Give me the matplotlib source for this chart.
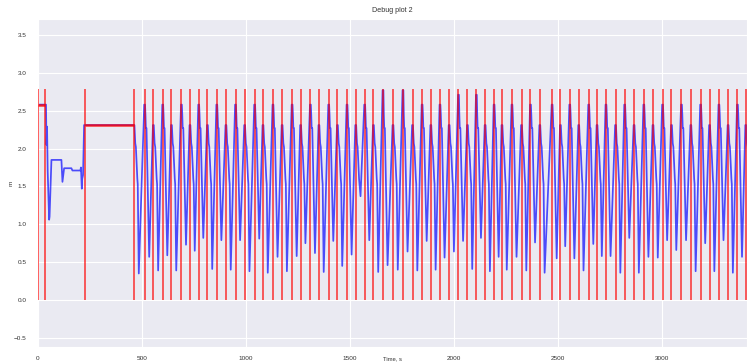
import matplotlib
matplotlib.use("Agg")
import matplotlib.pyplot as plt
import seaborn as sns

# ---------------- data ----------------
# red event markers (vertical lines from 0 to event_top)
red_t = [0, 37, 229,
         463, 514, 556, 601, 643, 691, 732, 774, 816, 861, 905, 951, 995,
         1043, 1083, 1131, 1175, 1223, 1264, 1311, 1352, 1399, 1441, 1487,
         1529, 1572, 1614, 1660, 1708, 1756, 1802, 1848, 1890, 1934, 1978,
         2023, 2066, 2109, 2151, 2194, 2232, 2280, 2326, 2369, 2414, 2473,
         2513, 2558, 2601, 2649, 2689, 2732, 2778, 2822, 2867, 2914, 2958,
         3004, 3047, 3095, 3140, 3187, 3230, 3275, 3319, 3364, 3404]
event_top = 2.78

# red horizontal hold segments
hold_start = [0, 229]
hold_end = [37, 463]
hold_level = [2.58, 2.31]

# blue signal: initial transient (time, value)
start_t = [0, 37, 40, 42, 45, 48, 55, 57, 66, 114, 119, 127, 162, 167,
           205, 208, 212, 214, 218, 223, 229]
start_v = [2.58, 2.58, 2.58, 2.05, 2.29, 1.70, 1.06, 1.10, 1.85, 1.85,
           1.56, 1.74, 1.74, 1.71, 1.71, 1.75, 1.47, 1.60, 1.65, 2.31, 2.31]

# blue signal: one cycle per event from t=463 on
cycle_t = red_t[3:]
cycle_peak = [2.31, 2.58, 2.31, 2.58, 2.31, 2.58, 2.31, 2.58, 2.31, 2.58,
              2.31, 2.58, 2.31, 2.58, 2.31, 2.58, 2.31, 2.58, 2.31, 2.58,
              2.31, 2.58, 2.31, 2.58, 2.31, 2.58, 2.31, 2.77, 2.31, 2.77,
              2.31, 2.58, 2.31, 2.58, 2.31, 2.71, 2.31, 2.71, 2.31, 2.58,
              2.31, 2.58, 2.31, 2.58, 2.31, 2.58, 2.31, 2.58, 2.31, 2.58,
              2.31, 2.58, 2.31, 2.58, 2.31, 2.58, 2.31, 2.58, 2.31, 2.58,
              2.31, 2.58, 2.31, 2.58, 2.31, 2.58, 2.31]
cycle_trough = [0.35, 0.57, 0.39, 0.59, 0.39, 0.73, 0.65, 0.82, 0.41, 0.79,
                0.40, 0.79, 0.38, 0.81, 0.36, 0.57, 0.38, 0.58, 0.75, 0.62,
                0.37, 0.78, 0.45, 0.60, 1.37, 0.79, 0.37, 0.46, 0.40, 0.64,
                0.39, 0.78, 0.40, 0.56, 0.64, 0.78, 0.41, 0.82, 0.38, 0.57,
                0.40, 0.57, 0.39, 0.76, 0.36, 0.55, 0.71, 0.55, 0.39, 0.74,
                0.58, 0.58, 0.36, 0.82, 0.36, 0.57, 0.56, 0.79, 0.66, 0.79,
                0.38, 0.75, 0.38, 0.79, 0.36, 0.57, 0.40]
shoulder_high = 2.27   # plateau right after a high peak
shoulder_low = 2.02    # dip right after a low peak
knee = 1.60            # kink on the falling edge after a low peak

# ---------------- build blue polyline from the keypoints ----------------
bt = list(start_t)
bv = list(start_v)
for t, p, tr in zip(cycle_t, cycle_peak, cycle_trough):
    if p > 2.4:
        bt += [t - 2, t + 2, t + 4, t + 6, t + 9, t + 22]
        bv += [p, p, 2.45, shoulder_high, shoulder_high, tr]
    else:
        bt += [t - 2, t + 2, t + 6, t + 9, t + 16, t + 18, t + 23]
        bv += [p, p, shoulder_low + 0.05, shoulder_low, knee, knee - 0.07, tr]

# ---------------- plot ----------------
sns.set_style("darkgrid")
plt.rcParams["font.family"] = ["Liberation Sans", "DejaVu Sans"]

fig = plt.figure(figsize=(7.47, 3.64), dpi=100)
ax = fig.add_axes([37.7 / 747, 1 - 347 / 364, 1 - 37.7 / 747, (347 - 19) / 364])

ax.plot(bt, bv, color="blue", alpha=0.68, lw=1.25, zorder=2)
ax.vlines(red_t, 0, event_top, color="red", alpha=0.7, lw=1.25, zorder=3)
ax.hlines(hold_level, hold_start, hold_end, color="red", alpha=0.8, lw=1.8, zorder=3)

ax.set_xlim(0, 3410)
ax.set_ylim(-0.621, 3.711)
ax.set_xticks([0, 500, 1000, 1500, 2000, 2500, 3000])
ax.set_yticks([-0.5, 0.0, 0.5, 1.0, 1.5, 2.0, 2.5, 3.0, 3.5])
ax.grid(True, color="white", lw=0.8)
ax.tick_params(axis="y", labelsize=4.6, pad=4.5, colors="#333333")
ax.tick_params(axis="x", labelsize=4.6, pad=3.2, colors="#333333")
ax.set_title("Debug plot 2", fontsize=5.1, color="#333333", pad=5)
ax.set_ylabel("m", fontsize=4.6, color="#333333", labelpad=0)
ax.set_xlabel("Time, s", fontsize=4.2, color="#333333")
ax.xaxis.set_label_coords(0.5, -0.0295)

fig.savefig("out.png", dpi=100)
